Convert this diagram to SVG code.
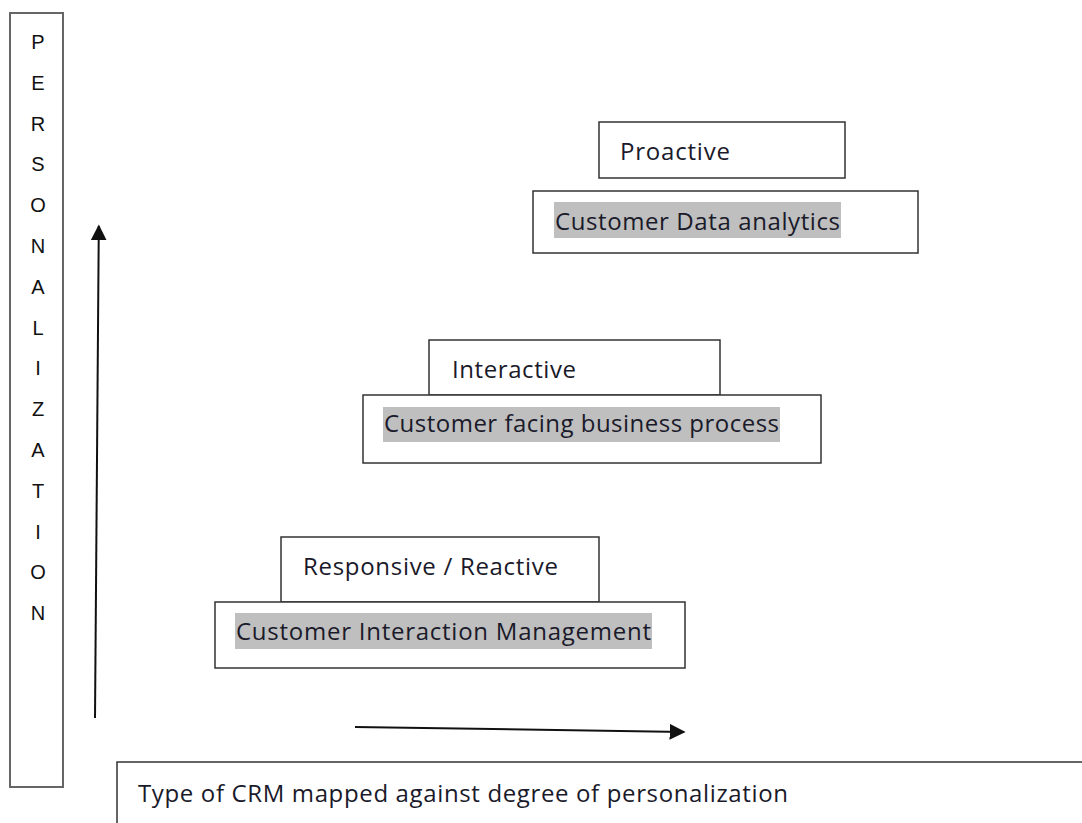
<svg xmlns="http://www.w3.org/2000/svg" width="1082" height="823" viewBox="0 0 1082 823">
<style>
.box{fill:#fff;stroke:#333;stroke-width:1.5}
.axisbox{fill:#fff;stroke:#666;stroke-width:2}
.hl{fill:#bfbfbf}
.t{font-family:"Open Sans","Liberation Sans",sans-serif;font-size:24px;fill:#1a1a2a}
.v{font-family:"Liberation Sans",Arial,sans-serif;font-size:20px;fill:#111;text-anchor:middle}
.conn{stroke:#111;stroke-width:2;fill:none}
</style>
<defs>
<marker id="ah" viewBox="0 0 10 10" refX="9" refY="5" markerWidth="8" markerHeight="8" markerUnits="userSpaceOnUse" orient="auto">
<path d="M0,0 L10,5 L0,10 z" fill="#111"/>
</marker>
<marker id="ah2" viewBox="0 0 10 10" refX="9" refY="5" markerWidth="16" markerHeight="16" markerUnits="userSpaceOnUse" orient="auto">
<path d="M0,0 L10,5 L0,10 z" fill="#111"/>
</marker>
</defs>
<rect width="1082" height="823" fill="#fff"/>
<g id="personalization-axis">
<rect class="axisbox" x="10" y="13" width="53" height="774"/>
<text class="v" x="38" y="49">P</text>
<text class="v" x="38" y="90">E</text>
<text class="v" x="38" y="131">R</text>
<text class="v" x="38" y="171">S</text>
<text class="v" x="38" y="212">O</text>
<text class="v" x="38" y="253">N</text>
<text class="v" x="38" y="294">A</text>
<text class="v" x="38" y="335">L</text>
<text class="v" x="38" y="375">I</text>
<text class="v" x="38" y="416">Z</text>
<text class="v" x="38" y="457">A</text>
<text class="v" x="38" y="498">T</text>
<text class="v" x="38" y="539">I</text>
<text class="v" x="38" y="579">O</text>
<text class="v" x="38" y="620">N</text>
</g>
<g id="connectors">
<line class="conn" x1="95" y1="718" x2="98.8" y2="226" marker-end="url(#ah2)"/>
<line class="conn" x1="355" y1="727" x2="684" y2="732" marker-end="url(#ah2)"/>
</g>
<g id="node-proactive">
<rect class="box" x="599" y="122" width="246" height="56"/>
<text class="t" x="620" y="160" textLength="110">Proactive</text>
</g>
<g id="node-data-analytics">
<rect class="box" x="533" y="191" width="385" height="62"/>
<rect class="hl" x="554" y="202" width="287" height="36"/>
<text class="t" x="555" y="230" textLength="285">Customer Data analytics</text>
</g>
<g id="node-interactive">
<rect class="box" x="429" y="340" width="291" height="55"/>
<text class="t" x="452" y="378" textLength="124">Interactive</text>
</g>
<g id="node-business-process">
<rect class="box" x="363" y="395" width="458" height="68"/>
<rect class="hl" x="383" y="407" width="397" height="35"/>
<text class="t" x="384" y="432" textLength="395">Customer facing business process</text>
</g>
<g id="node-responsive">
<rect class="box" x="281" y="537" width="318" height="65"/>
<text class="t" x="303" y="575" textLength="255">Responsive / Reactive</text>
</g>
<g id="node-interaction-mgmt">
<rect class="box" x="215" y="602" width="470" height="66"/>
<rect class="hl" x="235" y="613" width="417" height="36"/>
<text class="t" x="236" y="640" textLength="415">Customer Interaction Management</text>
</g>
<g id="caption">
<rect class="box" x="117" y="762" width="1000" height="100"/>
<text class="t" x="138" y="802" textLength="650">Type of CRM mapped against degree of personalization</text>
</g>
</svg>
